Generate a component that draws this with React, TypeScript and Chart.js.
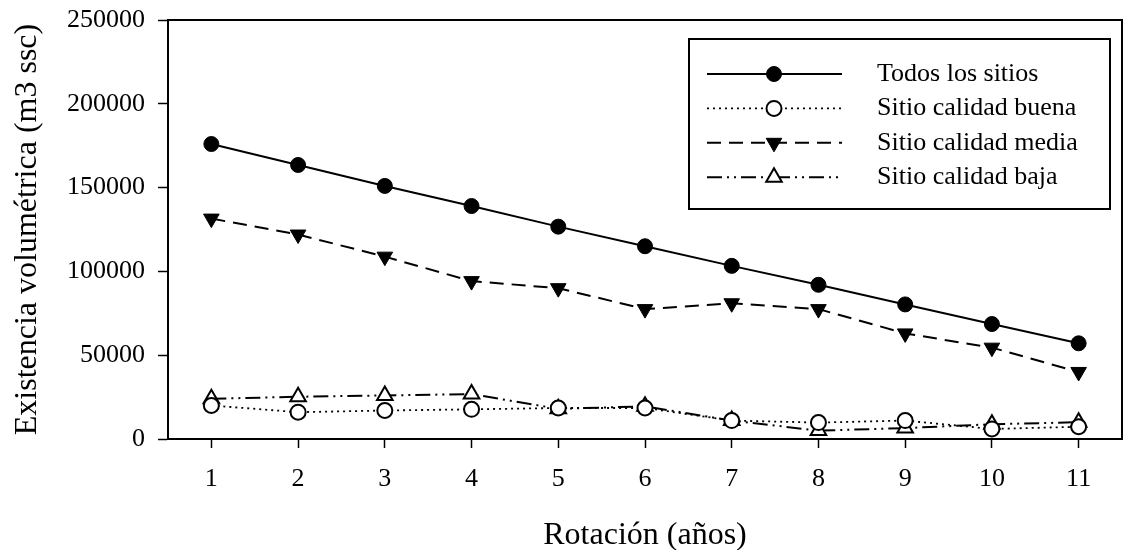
import React, { useEffect, useRef } from "react";
import { Chart, registerables } from "chart.js";

Chart.register(...registerables);

const rotation = [1, 2, 3, 4, 5, 6, 7, 8, 9, 10, 11];
const todos = [176000, 163500, 151000, 139000, 126700, 115000, 103300, 92000, 80300, 68600, 57100];
const buena = [20000, 16000, 17000, 17700, 18500, 18500, 11000, 9800, 11000, 6000, 7300];
const media = [131500, 122000, 108800, 94200, 90000, 77500, 81000, 77500, 63000, 54500, 40000];
const baja = [24000, 25200, 26000, 26800, 18000, 19500, 11000, 5000, 6500, 8800, 10000];
const xTicks = [1, 2, 3, 4, 5, 6, 7, 8, 9, 10, 11];
const yTicks = [0, 50000, 100000, 150000, 200000, 250000];
const seriesNames = ["Todos los sitios", "Sitio calidad buena", "Sitio calidad media", "Sitio calidad baja"];

const FONT = "'Liberation Serif', 'Times New Roman', serif";

function drawMarker(ctx: CanvasRenderingContext2D, ds: any, x: number, y: number) {
  const r = ds.pointRadius;
  ctx.save();
  ctx.setLineDash([]);
  ctx.beginPath();
  if (ds.pointStyle === "circle") {
    ctx.arc(x, y, r, 0, Math.PI * 2);
  } else {
    let rad = ((ds.pointRotation || 0) * Math.PI) / 180;
    for (let i = 0; i < 3; i++) {
      const px = x + Math.sin(rad) * r;
      const py = y - Math.cos(rad) * r;
      if (i === 0) ctx.moveTo(px, py);
      else ctx.lineTo(px, py);
      rad += (2 * Math.PI) / 3;
    }
    ctx.closePath();
  }
  ctx.fillStyle = ds.pointBackgroundColor;
  ctx.fill();
  ctx.lineWidth = ds.pointBorderWidth;
  ctx.strokeStyle = ds.pointBorderColor;
  ctx.stroke();
  ctx.restore();
}

const framePlugin = {
  id: "frameAndLegend",
  afterDraw(chart: any) {
    const ctx: CanvasRenderingContext2D = chart.ctx;
    const { left, right, top, bottom } = chart.chartArea;
    ctx.save();
    ctx.strokeStyle = "#000";
    ctx.lineWidth = 2;
    ctx.beginPath();
    ctx.moveTo(left, top);
    ctx.lineTo(right, top);
    ctx.lineTo(right, bottom);
    ctx.stroke();

    // legend
    const bx = 689, by = 39, bw = 421, bh = 170;
    ctx.strokeRect(bx, by, bw, bh);
    const rowY0 = 74, rowStep = 34.4;
    chart.data.datasets.forEach((ds: any, i: number) => {
      const y = rowY0 + i * rowStep;
      ctx.save();
      ctx.strokeStyle = ds.borderColor;
      ctx.lineWidth = ds.borderWidth;
      ctx.setLineDash(ds.borderDash || []);
      ctx.beginPath();
      ctx.moveTo(707, y);
      ctx.lineTo(842, y);
      ctx.stroke();
      ctx.restore();
      drawMarker(ctx, ds, 774, y);
      ctx.fillStyle = "#000";
      ctx.font = `26px ${FONT}`;
      ctx.textBaseline = "middle";
      ctx.textAlign = "left";
      ctx.fillText(ds.label, 877, y);
    });
    ctx.restore();
  },
};

export default function App() {
  const ref = useRef<HTMLCanvasElement | null>(null);

  useEffect(() => {
    document.body.style.margin = "0";
    const pts = (vals: number[]) => vals.map((v, i) => ({ x: rotation[i], y: v }));
    const chart = new Chart(ref.current as HTMLCanvasElement, {
      type: "line",
      data: {
        datasets: [
          {
            label: seriesNames[0],
            data: pts(todos),
            borderColor: "#000",
            borderWidth: 2,
            pointStyle: "circle",
            pointRadius: 7.5,
            pointBackgroundColor: "#000",
            pointBorderColor: "#000",
            pointBorderWidth: 1,
            tension: 0,
          },
          {
            label: seriesNames[1],
            data: pts(buena),
            borderColor: "#000",
            borderWidth: 1.8,
            borderDash: [2, 4],
            pointStyle: "circle",
            pointRadius: 7.5,
            pointBackgroundColor: "#fff",
            pointBorderColor: "#000",
            pointBorderWidth: 2,
            tension: 0,
          },
          {
            label: seriesNames[2],
            data: pts(media),
            borderColor: "#000",
            borderWidth: 2,
            borderDash: [14, 8],
            pointStyle: "triangle",
            pointRotation: 180,
            pointRadius: 9,
            pointBackgroundColor: "#000",
            pointBorderColor: "#000",
            pointBorderWidth: 1,
            tension: 0,
          },
          {
            label: seriesNames[3],
            data: pts(baja),
            borderColor: "#000",
            borderWidth: 2,
            borderDash: [15, 5, 2, 5, 2, 5],
            pointStyle: "triangle",
            pointRadius: 9,
            pointBackgroundColor: "#fff",
            pointBorderColor: "#000",
            pointBorderWidth: 2,
            tension: 0,
          },
        ] as any,
      },
      options: {
        responsive: false,
        animation: false,
        layout: { autoPadding: false, padding: { top: 20, right: 3, left: 0, bottom: 0 } },
        plugins: { legend: { display: false }, tooltip: { enabled: false } },
        scales: {
          x: {
            type: "linear",
            min: 0.5,
            max: 11.5,
            afterBuildTicks: (axis: any) => {
              axis.ticks = xTicks.map((v) => ({ value: v }));
            },
            afterFit: (s: any) => {
              s.height = 111;
              s.paddingLeft = 0;
              s.paddingRight = 0;
            },
            ticks: {
              color: "#000",
              font: { family: FONT, size: 26 },
              padding: 16,
              maxRotation: 0,
              autoSkip: false,
              callback: (v: any) => String(v),
            },
            grid: {
              drawOnChartArea: false,
              drawTicks: true,
              tickLength: 9,
              color: "#000",
              tickWidth: 1.5,
            },
            border: { display: true, color: "#000", width: 2 },
            title: {
              display: true,
              text: "Rotación (años)",
              color: "#000",
              font: { family: FONT, size: 32, lineHeight: 0.875 },
              padding: { top: 0, bottom: 0 },
            },
          },
          y: {
            type: "linear",
            min: 0,
            max: 250000,
            afterBuildTicks: (axis: any) => {
              axis.ticks = yTicks.map((v) => ({ value: v }));
            },
            afterFit: (s: any) => {
              s.width = 168;
              s.paddingTop = 0;
              s.paddingBottom = 0;
            },
            ticks: {
              color: "#000",
              font: { family: FONT, size: 26 },
              padding: 13,
              autoSkip: false,
              callback: (v: any) => String(v),
            },
            grid: {
              drawOnChartArea: false,
              drawTicks: true,
              tickLength: 10,
              color: "#000",
              tickWidth: 1.5,
            },
            border: { display: true, color: "#000", width: 2 },
            title: {
              display: true,
              text: "Existencia volumétrica (m3 ssc)",
              color: "#000",
              font: { family: FONT, size: 32, lineHeight: 0.875 },
              padding: { top: 14, bottom: 0 },
            },
          },
        },
      },
      plugins: [framePlugin],
    });
    return () => chart.destroy();
  }, []);

  return (
    <div style={{ width: 1125, height: 550 }}>
      <canvas ref={ref} width={1125} height={550} style={{ display: "block" }} />
    </div>
  );
}
